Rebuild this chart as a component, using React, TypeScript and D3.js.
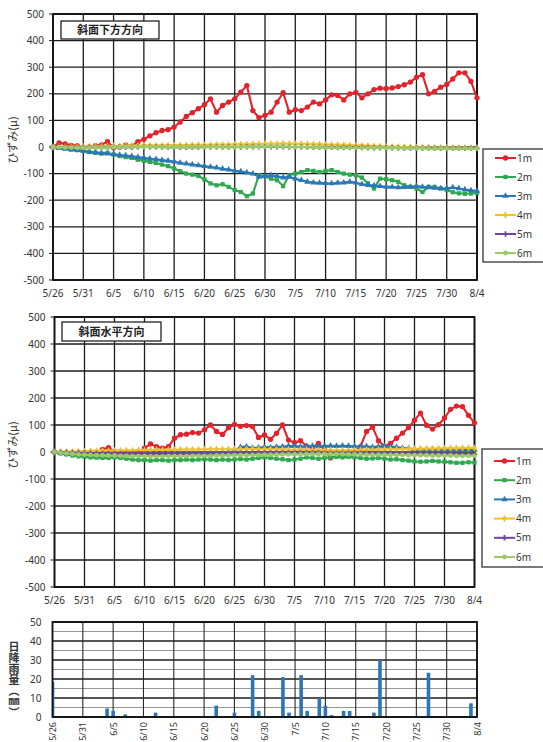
import React from "react";
import * as d3 from "d3";

// Observation period (daily readings)
const START = new Date(Date.UTC(2021, 4, 26));
const END = new Date(Date.UTC(2021, 7, 4));
const days = d3.utcDay.range(START, d3.utcDay.offset(END, 1));

const seriesNames = ["1m", "2m", "3m", "4m", "5m", "6m"];
const strainTicks = [-500, -400, -300, -200, -100, 0, 100, 200, 300, 400, 500];
const rainTicks = [0, 10, 20, 30, 40, 50];

// 斜面下方方向 strain (μ), one value per day
const downRed1 = [
  0, 15, 12, 6, 5, -2, 0, 5, 8, 20,
  -3, 0, 7, 3, 20, 29, 42, 54, 62, 65,
  75, 94, 115, 129, 144, 159, 181, 131, 156, 169,
  181, 206, 231, 137, 110, 119, 131, 169, 204, 131,
  140, 137, 150, 169, 162, 177, 196, 194, 177, 200,
  205, 185, 200, 216, 221, 220, 222, 227, 234, 244,
  262, 272, 200, 209, 225, 235, 256, 279, 279, 247, 185,
];
const downGreen2 = [
  0, -3, -6, -10, -12, -15, -19, -22, -25, -22,
  -29, -34, -38, -41, -48, -52, -56, -60, -66, -72,
  -81, -91, -100, -104, -109, -122, -137, -144, -140, -150,
  -162, -169, -185, -175, -106, -110, -119, -125, -147, -106,
  -100, -94, -87, -90, -94, -90, -87, -94, -100, -104,
  -106, -115, -137, -156, -119, -121, -125, -131, -144, -150,
  -156, -169, -150, -150, -156, -162, -170, -174, -176, -175, -173,
];
const downBlue3 = [
  0, -4, -6, -9, -12, -15, -18, -20, -23, -25,
  -27, -30, -32, -35, -38, -41, -44, -46, -49, -52,
  -55, -60, -63, -66, -69, -72, -75, -78, -82, -85,
  -89, -92, -96, -100, -112, -110, -106, -110, -115, -112,
  -119, -125, -131, -134, -135, -136, -137, -135, -134, -131,
  -134, -140, -143, -145, -147, -150, -150, -152, -151, -150,
  -147, -150, -152, -154, -156, -155, -152, -156, -160, -163, -165,
];
const downYellow4 = [
  0, 1, 1, 2, 2, 2, 3, 3, 3, 4,
  4, 4, 5, 5, 5, 6, 6, 6, 6, 7,
  7, 7, 7, 8, 8, 8, 8, 9, 9, 9,
  10, 10, 10, 11, 11, 12, 12, 12, 13, 12,
  12, 11, 11, 10, 10, 9, 9, 8, 8, 7,
  6, 5, 5, 4, 3, 2, 1, 1, 0, 0,
  -1, -1, -1, -2, -2, -2, -2, -2, -3, -3, -3,
];
const downPurple5 = [
  0, -1, -1, -1, -2, -2, -2, -2, -2, -1,
  -1, -1, -1, -1, 0, 0, 0, 0, 0, -1,
  -1, -1, -1, -1, -1, 0, 0, 0, 0, 0,
  0, 0, 1, 1, 1, 1, 1, 1, 1, 0,
  0, 0, 0, -1, -1, -1, -1, -2, -2, -2,
  -2, -2, -3, -3, -3, -3, -3, -4, -4, -4,
  -4, -4, -4, -5, -5, -5, -5, -5, -5, -5, -5,
];
const downLime6 = [
  0, -1, -2, -2, -3, -3, -3, -2, -2, -2,
  -1, -1, -1, 0, 0, 0, 0, -1, -1, -1,
  0, 0, 0, -1, -1, -1, 0, 0, -1, -1,
  -1, 0, 0, 0, 1, 1, 2, 2, 1, 1,
  0, 0, -1, -1, -1, -2, -2, -2, -3, -3,
  -3, -3, -4, -4, -3, -4, -4, -4, -5, -5,
  -5, -5, -6, -6, -5, -6, -6, -6, -5, -6, -6,
];

// 斜面水平方向 strain (μ), one value per day
const flatRed1 = [
  0, -3, -6, -8, -10, -10, -8, -5, 10, 16,
  1, -5, -8, -10, -8, 14, 30, 20, 14, 20,
  51, 64, 66, 72, 70, 82, 100, 76, 65, 90,
  102, 95, 98, 94, 54, 63, 47, 69, 100, 44,
  35, 42, 22, 16, 32, 8, -22, -16, -5, -14,
  -3, 20, 76, 92, 42, 20, 32, 51, 70, 90,
  118, 144, 99, 85, 101, 126, 158, 170, 168, 136, 108,
];
const flatGreen2 = [
  0, -5, -9, -13, -16, -18, -20, -21, -22, -22,
  -20, -22, -25, -28, -30, -30, -32, -30, -30, -32,
  -30, -30, -28, -30, -28, -27, -28, -30, -28, -30,
  -28, -26, -28, -25, -22, -20, -22, -25, -27, -30,
  -28, -25, -20, -22, -25, -22, -20, -18, -20, -18,
  -20, -22, -25, -24, -22, -25, -28, -27, -30, -32,
  -35, -36, -35, -33, -35, -36, -38, -40, -40, -38, -39,
];
const flatBlue3 = [
  0, -3, -5, -7, -8, -9, -10, -10, -10, -9,
  -10, -10, -11, -11, -10, -10, -9, -9, -8, -8,
  -7, -7, -6, -6, -5, -5, -4, -4, -3, -2,
  5, 18, 20, 15, 16, 18, 17, 19, 20, 22,
  22, 20, 21, 22, 21, 22, 23, 22, 23, 22,
  21, 20, 21, 18, 20, 22, 20, 18, 15, 13,
  11, 10, 9, 10, 9, 8, 8, 9, 8, 7, 8,
];
const flatYellow4 = [
  0, 1, 2, 2, 3, 3, 4, 4, 5, 5,
  5, 6, 6, 6, 7, 7, 7, 8, 8, 8,
  8, 9, 9, 9, 9, 10, 10, 10, 10, 10,
  10, 10, 11, 11, 10, 10, 10, 9, 9, 9,
  8, 8, 8, 7, 7, 7, 6, 6, 6, 6,
  7, 7, 8, 8, 9, 9, 10, 10, 11, 11,
  12, 12, 13, 13, 13, 14, 14, 14, 15, 15, 15,
];
const flatPurple5 = [
  0, -1, -2, -3, -3, -4, -4, -5, -5, -5,
  -5, -6, -6, -6, -6, -7, -7, -7, -7, -7,
  -7, -7, -7, -6, -6, -6, -6, -6, -5, -5,
  -5, -4, -4, -4, -3, -3, -3, -3, -3, -3,
  -3, -3, -3, -3, -3, -4, -4, -4, -4, -4,
  -4, -4, -5, -5, -5, -5, -5, -6, -6, -6,
  -6, -6, -7, -7, -7, -7, -7, -8, -8, -8, -8,
];
const flatLime6 = [
  0, -3, -5, -7, -9, -10, -11, -12, -12, -13,
  -13, -14, -14, -15, -15, -15, -16, -16, -16, -15,
  -15, -15, -15, -14, -14, -14, -14, -13, -13, -13,
  -12, -12, -12, -11, -11, -10, -10, -10, -9, -9,
  -9, -9, -8, -8, -8, -8, -8, -8, -8, -9,
  -9, -9, -10, -10, -10, -10, -11, -11, -11, -12,
  -12, -12, -12, -13, -13, -13, -13, -14, -14, -14, -14,
];

// Daily rainfall (mm)
const rainDates = [
  "5/26", "6/4", "6/5", "6/7", "6/12", "6/22", "6/25", "6/28", "6/29", "7/3", "7/4",
  "7/6", "7/7", "7/9", "7/10", "7/11", "7/13", "7/14", "7/18", "7/19", "7/27", "8/3",
];
const rainValues = [
  18.5, 4.5, 3.2, 1.4, 2.3, 6, 2.3, 22, 3.2, 21, 2.3,
  22, 3.2, 10, 6, 1, 3.2, 3.2, 2.3, 30, 23.3, 7.2,
];

const COLORS = ["#e3232b", "#2fa84f", "#2a78b6", "#f0c02c", "#7242a0", "#9acb68"];
const SYMBOLS = [d3.symbolCircle, d3.symbolSquare, d3.symbolTriangle, d3.symbolDiamond, d3.symbolCross, d3.symbolCircle];
const SYMBOL_SIZES = [22, 18, 18, 16, 16, 18];

const NUM_FONT = "'Noto Sans', 'DejaVu Sans', sans-serif";
const JP_FONT = "'Noto Sans CJK JP', 'Noto Sans', sans-serif";
const fmt = d3.utcFormat("%-m/%-d");
const dayTicks = d3.utcDay.range(START, d3.utcDay.offset(END, 1), 5);

function parseMD(s: string) {
  const [m, d] = s.split("/").map(Number);
  return new Date(Date.UTC(2021, m - 1, d));
}

type Frame = { left: number; right: number; top: number; bottom: number };

function StrainChart(props: {
  frame: Frame;
  title: string;
  titleBox: { x: number; y: number; w: number; h: number };
  legend: { x: number; y: number; w: number; h: number; first: number; step: number };
  series: number[][];
  xLabelY: number;
}) {
  const { frame, title, titleBox, legend, series, xLabelY } = props;
  const x = d3.scaleUtc().domain([START, END]).range([frame.left, frame.right]);
  const y = d3.scaleLinear().domain([-500, 500]).range([frame.bottom, frame.top]);
  const line = d3
    .line<number>()
    .x((_, i) => x(days[i]))
    .y((v) => y(v));
  const midY = (frame.top + frame.bottom) / 2;

  return (
    <g>
      {/* grid */}
      {strainTicks.map((t) => (
        <line key={"h" + t} x1={frame.left} x2={frame.right} y1={y(t)} y2={y(t)} stroke="#1c1c1c" strokeWidth={1.3} />
      ))}
      {dayTicks.map((d) => (
        <line key={"v" + d.getTime()} x1={x(d)} x2={x(d)} y1={frame.top} y2={frame.bottom} stroke="#1c1c1c" strokeWidth={1.3} />
      ))}
      <rect x={frame.left} y={frame.top} width={frame.right - frame.left} height={frame.bottom - frame.top} fill="none" stroke="#111" strokeWidth={1.8} />
      {/* y ticks */}
      {strainTicks.map((t) => (
        <g key={"yt" + t}>
          <line x1={frame.left - 4} x2={frame.left} y1={y(t)} y2={y(t)} stroke="#222" strokeWidth={1} />
          <text x={frame.left - 9} y={y(t) + 3.5} textAnchor="end" fontSize={10} fontFamily={NUM_FONT} fill="#333">
            {t}
          </text>
        </g>
      ))}
      {/* x tick labels */}
      {dayTicks.map((d) => (
        <text key={"xt" + d.getTime()} x={x(d)} y={xLabelY} textAnchor="middle" fontSize={10} fontFamily={NUM_FONT} fill="#333">
          {fmt(d)}
        </text>
      ))}
      {/* y axis title */}
      <text
        transform={`translate(17,${midY - 7}) rotate(-90)`}
        textAnchor="middle"
        fontSize={11}
        fontFamily={JP_FONT}
        fill="#333"
      >
        ひずみ(μ)
      </text>
      {/* series */}
      {series.map((vals, si) => (
        <g key={"s" + si}>
          <path d={line(vals) || ""} fill="none" stroke={COLORS[si]} strokeWidth={2.1} strokeLinejoin="round" />
          {vals.map((v, i) => (
            <path
              key={i}
              transform={`translate(${x(days[i])},${y(v)})`}
              d={d3.symbol().type(SYMBOLS[si]).size(SYMBOL_SIZES[si])() || ""}
              fill={COLORS[si]}
            />
          ))}
        </g>
      ))}
      {/* title box */}
      <rect x={titleBox.x} y={titleBox.y} width={titleBox.w} height={titleBox.h} fill="#fff" stroke="#222" strokeWidth={1.3} />
      <text
        x={titleBox.x + titleBox.w / 2}
        y={titleBox.y + titleBox.h / 2 + 4}
        textAnchor="middle"
        fontSize={11}
        fontWeight="bold"
        fontFamily={JP_FONT}
        fill="#222"
      >
        {title}
      </text>
      {/* legend */}
      <rect x={legend.x} y={legend.y} width={legend.w} height={legend.h} fill="#fff" stroke="#333" strokeWidth={1.3} />
      {seriesNames.map((name, si) => {
        const ly = legend.first + si * legend.step;
        return (
          <g key={"lg" + name}>
            <line x1={legend.x + 12} x2={legend.x + 33} y1={ly} y2={ly} stroke={COLORS[si]} strokeWidth={2} />
            <path
              transform={`translate(${legend.x + 22.5},${ly})`}
              d={d3.symbol().type(SYMBOLS[si]).size(SYMBOL_SIZES[si])() || ""}
              fill={COLORS[si]}
            />
            <text x={legend.x + 34} y={ly + 3.5} fontSize={10} fontFamily={NUM_FONT} fill="#333">
              {name}
            </text>
          </g>
        );
      })}
    </g>
  );
}

function RainChart({ frame }: { frame: Frame }) {
  const x = d3.scaleUtc().domain([START, END]).range([frame.left, frame.right]);
  const y = d3.scaleLinear().domain([0, 50]).range([frame.bottom, frame.top]);
  const minor = d3.range(5, 50, 10);
  const barW = 3.6;
  return (
    <g>
      <defs>
        <clipPath id="rain-clip">
          <rect x={frame.left} y={frame.top} width={frame.right - frame.left} height={frame.bottom - frame.top} />
        </clipPath>
      </defs>
      {minor.map((t) => (
        <line key={"m" + t} x1={frame.left} x2={frame.right} y1={y(t)} y2={y(t)} stroke="#8a8a8a" strokeWidth={0.9} />
      ))}
      {rainTicks.map((t) => (
        <line key={"h" + t} x1={frame.left} x2={frame.right} y1={y(t)} y2={y(t)} stroke="#1c1c1c" strokeWidth={1.4} />
      ))}
      {dayTicks.map((d) => (
        <line key={"v" + d.getTime()} x1={x(d)} x2={x(d)} y1={frame.top} y2={frame.bottom} stroke="#2a2a2a" strokeWidth={1.1} />
      ))}
      <g clipPath="url(#rain-clip)">
        {rainDates.map((ds, i) => {
          const d = parseMD(ds);
          return (
            <rect
              key={ds}
              x={x(d) - barW / 2}
              y={y(rainValues[i])}
              width={barW}
              height={y(0) - y(rainValues[i])}
              fill="#2e75b6"
            />
          );
        })}
      </g>
      <rect x={frame.left} y={frame.top} width={frame.right - frame.left} height={frame.bottom - frame.top} fill="none" stroke="#111" strokeWidth={1.8} />
      {rainTicks.map((t) => (
        <text key={"yt" + t} x={frame.left - 11} y={y(t) + 3.5} textAnchor="end" fontSize={10} fontFamily={NUM_FONT} fill="#333">
          {t}
        </text>
      ))}
      {dayTicks.map((d) => (
        <text
          key={"xt" + d.getTime()}
          transform={`translate(${x(d) + 3.5},${frame.bottom + 5}) rotate(-90)`}
          textAnchor="end"
          fontSize={9}
          fontFamily={NUM_FONT}
          fill="#333"
        >
          {fmt(d)}
        </text>
      ))}
      {/* vertical axis title, set in vertical writing mode */}
      <text
        x={14}
        y={641}
        fontSize={11}
        fontWeight="bold"
        fontFamily={JP_FONT}
        fill="#333"
        style={{ writingMode: "vertical-rl" }}
      >
        日降雨量（㎜）
      </text>
    </g>
  );
}

export default function App() {
  return (
    <svg width={543} height={742} style={{ position: "absolute", left: 0, top: 0, background: "#fff" }}>
      <rect width={543} height={742} fill="#fff" />
      <StrainChart
        frame={{ left: 53, right: 477, top: 14, bottom: 280 }}
        title="斜面下方方向"
        titleBox={{ x: 61, y: 21, w: 98, h: 18 }}
        legend={{ x: 483, y: 149, w: 64, h: 113, first: 158, step: 19 }}
        series={[downRed1, downGreen2, downBlue3, downYellow4, downPurple5, downLime6]}
        xLabelY={297}
      />
      <StrainChart
        frame={{ left: 54.5, right: 474.5, top: 317, bottom: 587 }}
        title="斜面水平方向"
        titleBox={{ x: 62, y: 322, w: 99, h: 19 }}
        legend={{ x: 482, y: 449, w: 64, h: 118, first: 461, step: 19.2 }}
        series={[flatRed1, flatGreen2, flatBlue3, flatYellow4, flatPurple5, flatLime6]}
        xLabelY={604}
      />
      <RainChart frame={{ left: 52.5, right: 477, top: 622, bottom: 717 }} />
    </svg>
  );
}
